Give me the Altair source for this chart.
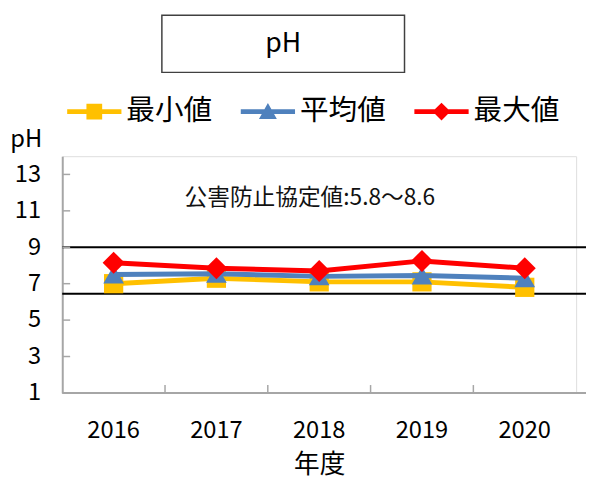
import altair as alt
import pandas as pd

# ---- data ----
years = ["2016", "2017", "2018", "2019", "2020"]
series_names = ["最小値", "平均値", "最大値"]
min_vals = [7.0, 7.3, 7.1, 7.1, 6.8]
avg_vals = [7.5, 7.55, 7.4, 7.45, 7.3]
max_vals = [8.15, 7.85, 7.7, 8.25, 7.85]
y_ticks = [1, 3, 5, 7, 9, 11, 13]
limit_lines = [9.0, 6.45]
title_text = "pH"
note_text = "公害防止協定値:5.8～8.6"
x_title = "年度"
y_title = "pH"

# ---- styles ----
colors = ["#FFC000", "#4F81BD", "#FF0000"]
marker_shapes = ["square", "triangle-up", "diamond"]
marker_sizes = [380, 440, 500]
legend_paths = [
    "M-1,-0.09H1V0.09H-1Z M-0.29,-0.29H0.29V0.29H-0.29Z",
    "M-1,-0.09H1V0.09H-1Z M0,-0.32L0.33,0.27L-0.33,0.27Z",
    "M-1,-0.09H1V0.09H-1Z M0,-0.33L0.33,0L0,0.33L-0.33,0Z",
]
FONT = "Noto Sans CJK JP"
W, H = 521, 240
GRAY = "#A6A6A6"

rows = []
for name, vals in zip(series_names, [min_vals, avg_vals, max_vals]):
    for yr, v in zip(years, vals):
        rows.append({"year": yr, "series": name, "value": v})
df = pd.DataFrame(rows)
df_lines = pd.DataFrame({"value": limit_lines})
df_yt = pd.DataFrame({"value": y_ticks[1:]})
df_xt = pd.DataFrame({"year": years[1:]})
df_base = pd.DataFrame({"value": [y_ticks[0]]})
one = pd.DataFrame({"a": [0]})

xscale = alt.Scale(type="band", domain=years, paddingInner=0, paddingOuter=0)
yscale = alt.Scale(domain=[1, 14], nice=False, zero=False)

x_axis = alt.Axis(title=x_title, labelAngle=0, labelFontSize=24, ticks=False,
                  domain=False, grid=False, labelPadding=26, titleFontSize=26,
                  titlePadding=10, titleFontWeight="normal", labelColor="#000",
                  titleColor="#000", labelFont=FONT, titleFont=FONT)
y_axis = alt.Axis(values=y_ticks, title=y_title, ticks=False, grid=False,
                  domainColor=GRAY, domainWidth=2, labelFontSize=24,
                  labelPadding=22, labelColor="#000", labelFont=FONT,
                  titleFont=FONT, titleFontSize=24, titleFontWeight="normal",
                  titleColor="#000", titleAngle=0, titleX=-37, titleY=-10,
                  titleAlign="center", titleBaseline="alphabetic")

xe = alt.X("year:O", scale=xscale, bandPosition=0.5, axis=x_axis)
ye = alt.Y("value:Q", scale=yscale, axis=y_axis)

layers = []

# limit lines
layers.append(alt.Chart(df_lines).mark_rule(color="#000", strokeWidth=2).encode(
    y=ye, x=alt.value(0), x2=alt.value(W + 12)))
# x base line
layers.append(alt.Chart(df_base).mark_rule(color=GRAY, strokeWidth=2).encode(
    y=ye, x=alt.value(0), x2=alt.value(W + 12)))
# inward y ticks
layers.append(alt.Chart(df_yt).mark_rule(color=GRAY, strokeWidth=1.5).encode(
    y=ye, x=alt.value(0), x2=alt.value(8)))
# inward x ticks
layers.append(alt.Chart(df_xt).mark_rule(color=GRAY, strokeWidth=1.5).encode(
    x=alt.X("year:O", scale=xscale, bandPosition=0, axis=x_axis),
    y=alt.value(H), y2=alt.value(H - 8)))

for name, col, shp, sz in zip(series_names, colors, marker_shapes, marker_sizes):
    base = alt.Chart(df).transform_filter(alt.datum.series == name)
    layers.append(base.mark_line(color=col, strokeWidth=5).encode(x=xe, y=ye))
    layers.append(base.mark_point(filled=True, color=col, shape=shp, size=sz,
                                  opacity=1, strokeWidth=0).encode(x=xe, y=ye))

legend = alt.Legend(orient="none", legendX=5, legendY=-73, direction="horizontal",
                    title=None, symbolSize=3025, symbolStrokeWidth=0,
                    symbolOpacity=1, labelFontSize=29, labelFont=FONT,
                    labelColor="#000", labelOffset=5, columnPadding=28,
                    padding=0, labelLimit=300)
layers.append(alt.Chart(df).mark_point(filled=True, opacity=0).encode(
    x=xe, y=ye,
    color=alt.Color("series:N", scale=alt.Scale(domain=series_names, range=colors), legend=legend),
    shape=alt.Shape("series:N", scale=alt.Scale(domain=series_names, range=legend_paths), legend=legend),
))

# title box
layers.append(alt.Chart(one).mark_rect(fill="white", stroke="#404040", strokeWidth=1.5).encode(
    x=alt.value(101), x2=alt.value(347), y=alt.value(-143), y2=alt.value(-85)))
layers.append(alt.Chart(one).mark_text(font=FONT, fontSize=27, color="#000",
                                       align="center", baseline="middle").encode(
    x=alt.value(224), y=alt.value(-114), text=alt.value(title_text)))
# annotation
layers.append(alt.Chart(one).mark_text(font=FONT, fontSize=23, color="#111",
                                       align="left", baseline="middle").encode(
    x=alt.value(124), y=alt.value(42), text=alt.value(note_text)))

chart = alt.layer(*layers).properties(
    width=W, height=H,
    autosize=alt.AutoSizeParams(type="none"),
    padding={"left": 55, "top": 147, "right": 10, "bottom": 85},
).configure_view(stroke=None).configure(font=FONT)

chart.save("out.html", embed_options={"renderer": "svg", "actions": False})
